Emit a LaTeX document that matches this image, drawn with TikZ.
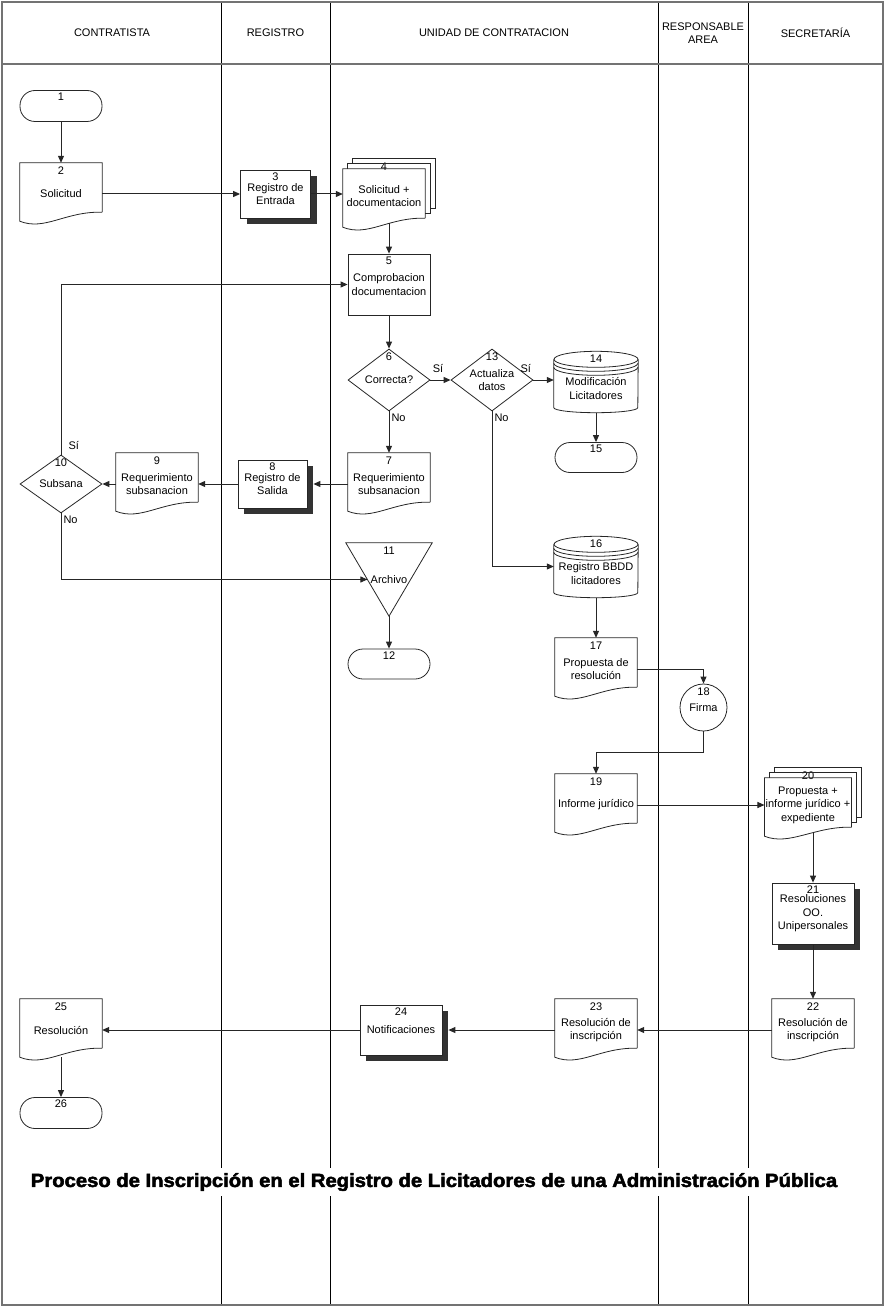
\documentclass[tikz,border=0pt]{standalone}
\usepackage{graphicx}
\usepackage{fontspec}
\setmainfont{Liberation Sans}
\newfontfamily\titlefont{Liberation Sans}[FakeBold=2.5]
\usetikzlibrary{arrows.meta,shapes.geometric,shadows,calc}

\begin{document}
\begin{tikzpicture}[x=1pt, y=-1pt,
	every node/.style={font=\fontsize{11}{13.5}\selectfont, align=center, inner sep=1pt},
	shp/.style={draw=black!85, line width=0.8pt},
	flow/.style={draw=black!85, line width=1pt, -{Triangle[length=7pt, width=6pt]}},
	lane/.style={draw=black, line width=0.7pt},
	frame/.style={draw=black!55, line width=1.8pt},
	lab/.style={anchor=north, inner sep=0pt},
	num/.style={label={[lab, yshift=-3pt]north:#1}},
	dnum/.style={label={[lab]north:#1}},
	mnum/.style={label={[lab, yshift=6pt]north:#1}},
	cnum/.style={label={[lab, yshift=15pt]north:#1}},
	vnum/.style={label={[lab, yshift=-4pt]north:#1}},
	procbox/.style={shp, minimum width=82pt, minimum height=61pt},
	regbox/.style={shp, fill=white, minimum width=70pt, minimum height=48pt,
		drop shadow={shadow xshift=6pt, shadow yshift=-6pt, fill=black!80, opacity=1}},
	term/.style={shp, rounded corners=15pt, minimum width=82pt, minimum height=31pt},
	doc/.style={minimum width=82pt, minimum height=54pt},
	multidoc/.style={minimum width=82pt, minimum height=54pt},
	dbase/.style={minimum width=84pt, minimum height=38pt},
	tri/.style={minimum width=86pt, minimum height=73pt},
	decision/.style={shp, diamond, aspect=1.3, inner sep=0pt, minimum width=82pt, minimum height=62pt},
	yesno/.style={inner sep=2pt}]
	\newcommand {\docshape} [1] {
		\coordinate (#1-top) at ([shift={(0,-4)}]#1.north);
		\draw[shp] ([shift={(0,-9)}]#1.south east) -- ([shift={(0,-4)}]#1.north east)
			-- ([shift={(0,-4)}]#1.north west) -- (#1.south west)
			.. controls ([shift={(25,10)}]#1.south west) and ([shift={(-37,-10)}]#1.south east)
			.. ([shift={(0,-9)}]#1.south east);
	}
	\newcommand {\pileshape} [1] {
		\foreach \d in {10,5}
		{
			\draw[shp] ([shift={(\d,-\d+5)}]#1.north west) -- ([shift={(\d,-\d)}]#1.north west)
				-- ([shift={(\d,-\d)}]#1.north east) -- ([shift={(\d,-\d-5)}]#1.south east)
				-- ([shift={(\d-5,-\d-5)}]#1.south east);
		}
		\draw[shp] ([shift={(0,-5)}]#1.south east) -- (#1.north east) -- (#1.north west)
			-- ([shift={(0,4)}]#1.south west)
			.. controls ([shift={(25,14)}]#1.south west) and ([shift={(-37,-6)}]#1.south east)
			.. ([shift={(0,-5)}]#1.south east);
	}
	\newcommand {\dbshape} [1] {
		\draw[shp] ([shift={(0,-10)}]#1.north) ellipse [x radius=42pt, y radius=8pt];
		\draw[shp] ([shift={(0,-10)}]#1.north west) -- (#1.south west)
			arc [start angle=180, end angle=360, x radius=42pt, y radius=5pt]
			-- ([shift={(0,-10)}]#1.north east);
		\foreach \d in {6,2}
		{
			\draw[shp] ([shift={(0,-\d)}]#1.north west)
				arc [start angle=180, end angle=360, x radius=42pt, y radius=8pt];
		}
	}
	\useasboundingbox (0,0) rectangle (886,1308);
	\foreach \x in {221,330,658,748}
	{
		\draw[lane] (\x,2) -- (\x,1305);
	}
	\draw[frame] (2,2) rectangle (883,1305);
	\draw[frame] (2,64) -- (883,64);
	\node (hc) at (112,33) {CONTRATISTA};
	\node (hr) at (275.5,33) {REGISTRO};
	\node (hu) at (494,33) {UNIDAD DE CONTRATACION};
	\node (ha) at (703,33) {RESPONSABLE\\AREA};
	\node (hs) at (815.5,33) {SECRETARÍA};

	\node[term, num=1] (n1) at (61,106) {};
	\node[doc, dnum=2] (n2) at (61,194) {Solicitud};
	\node[regbox, num=3] (n3) at (275.5,194) {Registro de\\Entrada};
	\node[multidoc, mnum=4] (n4) at (384,196) {Solicitud +\\documentacion};
	\node[procbox, num=5] (n5) at (389,284.5) {Comprobacion\\documentacion};
	\node[decision, vnum=6] (n6) at (389,380) {Correcta?};
	\node[decision, vnum=13] (n13) at (492,380) {Actualiza\\datos};
	\node[dbase, cnum=14] (n14) at (596,388.5) {Modificación\\Licitadores};
	\node[term, num=15, minimum height=30pt] (n15) at (596,457.5) {};
	\node[doc, dnum=7] (n7) at (389,484) {Requerimiento\\subsanacion};
	\node[regbox, num=8, minimum width=69pt] (n8) at (272.5,484) {Registro de\\Salida};
	\node[doc, dnum=9] (n9) at (157,484) {Requerimiento\\subsanacion};
	\node[decision, vnum=10, minimum height=58pt] (n10) at (61,484) {Subsana};
	\node[tri, vnum=11] (n11) at (389,579.5) {Archivo};
	\node[term, num=12, minimum height=30pt] (n12) at (389,664) {};
	\node[dbase, cnum=16] (n16) at (596,573.5) {Registro BBDD\\licitadores};
	\node[doc, dnum=17] (n17) at (596,669) {Propuesta de\\resolución};
	\node[shp, circle, minimum size=47pt, inner sep=0pt, vnum=18] (n18) at (703.5,707.5) {Firma};
	\node[doc, dnum=19] (n19) at (596,805) {Informe jurídico};
	\node[multidoc, mnum=20] (n20) at (808,805) {Propuesta +\\informe jurídico +\\expediente};
	\node[regbox, num=21, minimum width=82pt, minimum height=61pt] (n21) at (813,913.5) {Resoluciones\\OO.\\Unipersonales};
	\node[doc, dnum=22] (n22) at (813,1030) {Resolución de\\inscripción};
	\node[doc, dnum=23] (n23) at (596,1030) {Resolución de\\inscripción};
	\node[regbox, num=24, minimum width=82pt, minimum height=50pt] (n24) at (401,1030) {Notificaciones};
	\node[doc, dnum=25] (n25) at (61,1030) {Resolución};
	\node[term, num=26] (n26) at (61,1113) {};

	\foreach \n in {n2,n7,n9,n17,n19,n22,n23,n25}
	{
		\docshape{\n}
	}
	\foreach \n in {n4,n20}
	{
		\pileshape{\n}
	}
	\foreach \n in {n14,n16}
	{
		\dbshape{\n}
	}
	\draw[shp] (n11.north west) -- (n11.north east) -- (n11.south) -- cycle;

	\draw[flow] (n1.south) -- (n2-top);
	\draw[flow] (n2.east) -- (n3.west);
	\draw[flow] (n3.east) -- (n3.east -| n4.west);
	\draw[flow] (n5.north |- n4.south) -- (n5.north);
	\draw[flow] (n5.south) -- (n6.north);
	\draw[flow] (n6.east) -- node[yesno, at start, anchor=south west, yshift=5pt] {Sí} (n13.west);
	\draw[flow] (n13.east) -- node[yesno, at start, anchor=south east, yshift=5pt] {Sí} (n13.east -| n14.west);
	\draw[flow] ([yshift=-5pt]n14.south) -- (n15.north);
	\draw[flow] (n6.south) -- node[yesno, at start, anchor=north west] {No} (n7-top);
	\draw[flow] (n7.west) -- ([xshift=6pt]n8.east);
	\draw[flow] (n8.west) -- (n9.east);
	\draw[flow] (n9.west) -- (n10.east);
	\draw[flow] (n10.north) |- node[yesno, at start, anchor=south west, xshift=5pt, yshift=2pt] {Sí} (n5.west);
	\draw[flow] (n10.south) |- node[yesno, at start, anchor=north west] {No} ($(n11.north west)!0.5!(n11.south)$);
	\draw[flow] (n11.south) -- (n12.north);
	\draw[flow] (n13.south) |- node[yesno, at start, anchor=north west] {No} ([yshift=7pt]n16.west);
	\draw[flow] ([yshift=-5pt]n16.south) -- (n17-top);
	\draw[flow] (n17.east) -| (n18.north);
	\draw[flow] (n18.south) -- ++(0,21) -| (n19-top);
	\draw[flow] (n19.east) -- (n20.west);
	\draw[flow] (n21.north |- n20.south) -- (n21.north);
	\draw[flow] (n21.south) -- (n22-top);
	\draw[flow] (n22.west) -- (n23.east);
	\draw[flow] (n23.west) -- ([xshift=6pt]n24.east);
	\draw[flow] (n24.west) -- (n25.east);
	\draw[flow] (n25.south) -- (n26.north);

	\node[fill=white, inner sep=5pt, font=\titlefont\bfseries\fontsize{19}{22}\selectfont] (title) at (434,1182)
		{\scalebox{1.065}[1]{Proceso de Inscripción en el Registro de Licitadores de una Administración Pública}};
\end{tikzpicture}
\end{document}
